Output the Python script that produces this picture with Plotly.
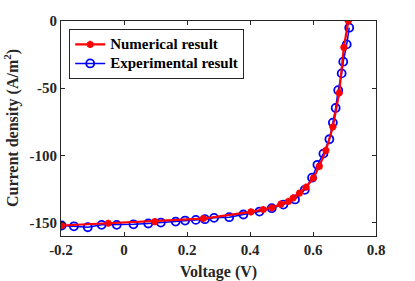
import plotly.graph_objects as go

# Experimental data (blue circles)
exp_v = [-0.198, -0.159, -0.115, -0.071, -0.023, 0.030, 0.077, 0.117, 0.164, 0.194,
         0.228, 0.257, 0.286, 0.334, 0.379, 0.430, 0.469, 0.506, 0.543, 0.574,
         0.597, 0.614, 0.633, 0.652, 0.663, 0.672, 0.680, 0.691, 0.696, 0.707, 0.715]
exp_j = [-152.2, -152.8, -153.5, -151.7, -151.7, -151.3, -150.7, -150.0, -149.3, -148.5,
         -148.0, -147.5, -146.5, -146.0, -144.0, -141.8, -139.3, -136.6, -132.8, -125.6,
         -116.6, -107.0, -98.7, -88.0, -75.6, -64.7, -51.5, -39.0, -30.3, -17.4, -5.0]

# Numerical data (red)
num_v = [-0.198, -0.050, 0.098, 0.252, 0.403, 0.442, 0.469, 0.498, 0.522, 0.537,
         0.557, 0.578, 0.601, 0.620, 0.641, 0.663, 0.683, 0.698, 0.712]
num_j = [-152.2, -150.5, -149.3, -147.0, -142.0, -140.3, -139.0, -136.3, -134.3, -131.7,
         -128.1, -123.7, -116.9, -108.2, -96.3, -78.9, -53.6, -19.6, 0.0]

x_ticks = [-0.2, 0, 0.2, 0.4, 0.6, 0.8]
x_tick_labels = ["-0.2", "0", "0.2", "0.4", "0.6", "0.8"]
y_ticks = [-150, -100, -50, 0]
y_tick_labels = ["-150", "-100", "-50", "0"]
x_title = "Voltage (V)"
y_title = "Current density (A/m<sup>2</sup>)"
series_names = ["Numerical result", "Experimental result"]

font_family = "Times New Roman, Liberation Serif, serif"


def legend_label(s):
    return f"<span style='font-size:15px'><b>{s}</b></span>"


fig = go.Figure()
fig.add_trace(go.Scatter(
    x=exp_v, y=exp_j, mode="lines+markers", name=legend_label(series_names[1]),
    line=dict(color="#0000ff", width=1.5),
    marker=dict(symbol="circle-open", size=8, color="#0000ff", line=dict(width=1.8)),
    legendrank=2,
))
fig.add_trace(go.Scatter(
    x=num_v, y=num_j, mode="lines+markers", name=legend_label(series_names[0]),
    line=dict(color="#ff0000", width=2.2),
    marker=dict(symbol="asterisk-open", size=6, color="#ff0000", line=dict(width=2.2, color="#ff0000")),
    legendrank=1,
))

axis_common = dict(
    showline=True, linecolor="#262626", linewidth=1.2, mirror="ticks",
    ticks="inside", ticklen=4, tickwidth=1, tickcolor="#262626",
    showgrid=False, zeroline=False, automargin=False,
    tickfont=dict(family=font_family, size=15, color="#262626"),
)

fig.update_layout(
    width=415, height=281,
    margin=dict(l=61, r=39, t=21, b=45, autoexpand=False),
    paper_bgcolor="white", plot_bgcolor="white",
    font=dict(family=font_family, color="#262626"),
    xaxis=dict(range=[-0.2, 0.8], tickvals=x_ticks, ticktext=[f"<b>{t}</b>" for t in x_tick_labels],
               **axis_common),
    yaxis=dict(range=[-160, 0], tickvals=y_ticks, ticktext=[f"<b>{t}</b>" for t in y_tick_labels],
               **axis_common),
    legend=dict(x=0.026, y=0.963, xanchor="left", yanchor="top",
                bgcolor="white", bordercolor="#262626", borderwidth=1,
                font=dict(family=font_family, size=12, color="black"),
                itemwidth=30, tracegroupgap=0),
    showlegend=True,
    annotations=[
        dict(text=f"<b>{x_title}</b>", xref="paper", yref="paper", x=0.5, y=0,
             xanchor="center", yanchor="top", yshift=-25, showarrow=False,
             font=dict(family=font_family, size=16, color="#262626")),
        dict(text=f"<b>{y_title}</b>", xref="paper", yref="paper", x=0, y=0.5,
             xanchor="right", yanchor="middle", xshift=-37, textangle=-90, showarrow=False,
             font=dict(family=font_family, size=16, color="#262626")),
    ],
)

# remove the browser's default body margin so the figure sits at the page origin
fig.write_html("out.html", config={"displayModeBar": False},
               post_script="document.body.style.margin='0';document.body.style.overflow='hidden';")
